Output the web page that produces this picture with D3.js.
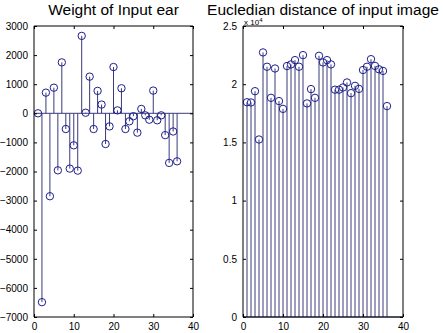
<!DOCTYPE html>
<html>
<head>
<meta charset="utf-8">
<script src="https://cdn.jsdelivr.net/npm/d3@7"></script>
<style>
  body { margin: 0; background: #fff; }
  svg { display: block; font-family: "Liberation Sans", Arial, sans-serif; }
</style>
</head>
<body>
<svg id="chart"></svg>
<script>
// sample index 1..36
const sampleIdx = d3.range(1, 37);

// left subplot: weight of input ear
const earWeights = [
  0, -6490, 710, -2850, 880, -1960, 1750, -540, -1900, -1100,
  -1970, 2660, 20, 1260, -540, 770, 300, -1055, -450, 1590,
  100, 860, -540, -275, -100, -665, 150, -70, -220, 780,
  -240, -70, -750, -1705, -625, -1650
];

// right subplot: euclidean distance (x 10^4)
const distances = [
  1.845, 1.843, 1.94, 1.525, 2.273, 2.15, 1.883, 2.135, 1.855, 1.788,
  2.156, 2.17, 2.207, 2.15, 2.25, 1.835, 1.958, 1.883, 2.244, 2.187,
  2.207, 2.17, 1.953, 1.953, 1.972, 2.015, 1.923, 1.986, 1.96, 2.122,
  2.15, 2.215, 2.157, 2.128, 2.114, 1.812
];

const xTicks = [0, 10, 20, 30, 40];
const leftYTicks = d3.range(-7000, 3001, 1000);
const rightYTicks = [0, 0.5, 1, 1.5, 2, 2.5];

const titles = ['Weight of Input ear', 'Eucledian distance of input image'];

const W = 443, H = 333;
const svg = d3.select('#chart').attr('width', W).attr('height', H);

const stemColor = '#3a3a7c';
const markColor = '#1f1f8c';

function drawPanel(opts) {
  const { left, right, top, bottom, yDomain, yTicks, values, title, tickFmt } = opts;

  const x = d3.scaleLinear().domain([0, 40]).range([left, right]);
  const y = d3.scaleLinear().domain(yDomain).range([bottom, top]);

  const g = svg.append('g');

  // stems from baseline 0
  g.selectAll('line.stem')
    .data(values)
    .enter()
    .append('line')
    .attr('class', 'stem')
    .attr('x1', (d, i) => x(sampleIdx[i]))
    .attr('x2', (d, i) => x(sampleIdx[i]))
    .attr('y1', y(0))
    .attr('y2', (d) => y(d))
    .attr('stroke', stemColor)
    .attr('stroke-width', 1);

  // baseline
  g.append('line')
    .attr('x1', x(0)).attr('x2', x(40))
    .attr('y1', y(0)).attr('y2', y(0))
    .attr('stroke', stemColor);

  // circle markers
  g.selectAll('circle')
    .data(values)
    .enter()
    .append('circle')
    .attr('cx', (d, i) => x(sampleIdx[i]))
    .attr('cy', (d) => y(d))
    .attr('r', 3.7)
    .attr('fill', 'none')
    .attr('stroke', markColor)
    .attr('stroke-width', 1);

  // axes, matlab style: ticks inward, box around
  const bottomAx = g.append('g')
    .attr('transform', `translate(0,${bottom})`)
    .call(d3.axisBottom(x).tickValues(xTicks).tickSize(-3).tickPadding(6));
  const topAx = g.append('g')
    .attr('transform', `translate(0,${top})`)
    .call(d3.axisTop(x).tickValues(xTicks).tickSize(-3).tickFormat(''));
  const leftAx = g.append('g')
    .attr('transform', `translate(${left},0)`)
    .call(d3.axisLeft(y).tickValues(yTicks).tickSize(-3).tickPadding(6).tickFormat(tickFmt));
  const rightAx = g.append('g')
    .attr('transform', `translate(${right},0)`)
    .call(d3.axisRight(y).tickValues(yTicks).tickSize(-3).tickFormat(''));

  [bottomAx, topAx, leftAx, rightAx].forEach((a) => {
    a.select('.domain').attr('stroke', '#000').attr('stroke-width', 1);
    a.selectAll('.tick line').attr('stroke', '#000');
    a.selectAll('.tick text')
      .attr('fill', '#000')
      .style('font-size', '10px')
      .style('font-family', '"Liberation Sans", Arial, sans-serif');
  });
  // strip the axis end caps d3 adds
  bottomAx.select('.domain').attr('d', `M${left},0H${right}`);
  topAx.select('.domain').attr('d', `M${left},0H${right}`);
  leftAx.select('.domain').attr('d', `M0,${top}V${bottom}`);
  rightAx.select('.domain').attr('d', `M0,${top}V${bottom}`);

  return { x, y, g, title };
}

const leftPanel = drawPanel({
  left: 34, right: 193, top: 26, bottom: 317,
  yDomain: [-7000, 3000], yTicks: leftYTicks, values: earWeights,
  title: titles[0], tickFmt: d3.format('d')
});

const rightPanel = drawPanel({
  left: 243, right: 403, top: 26, bottom: 317,
  yDomain: [0, 2.5], yTicks: rightYTicks, values: distances,
  title: titles[1], tickFmt: (d) => String(d)
});

// exponent label of right axes, tucked just above the axes box
const expo = svg.append('text')
  .attr('x', 244).attr('y', 25)
  .style('font-size', '8px')
  .attr('fill', '#000');
expo.append('tspan').text('x 10');
expo.append('tspan').attr('dy', -3).style('font-size', '6px').text('4');

// titles
[leftPanel, rightPanel].forEach((p) => {
  const r = p.x.range();
  svg.append('text')
    .attr('x', (r[0] + r[1]) / 2)
    .attr('y', 15)
    .attr('text-anchor', 'middle')
    .style('font-size', '15.5px')
    .attr('fill', '#000')
    .text(p.title);
});
</script>
</body>
</html>
